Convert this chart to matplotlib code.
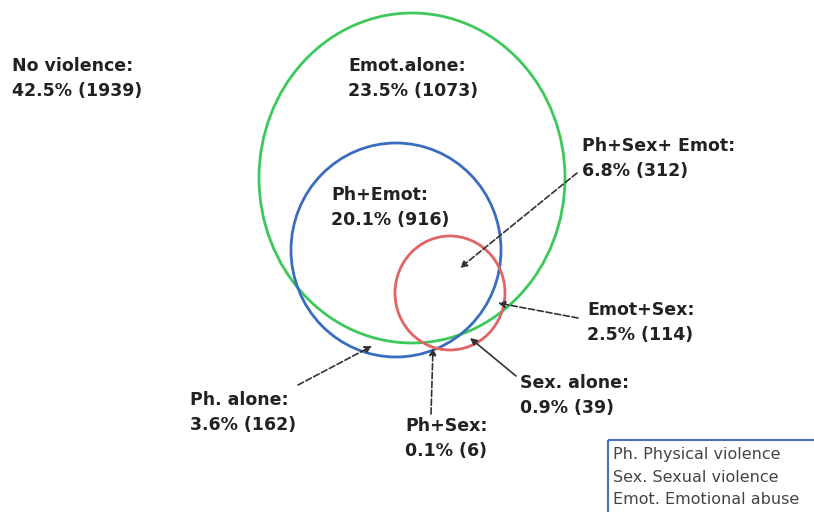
import matplotlib
matplotlib.use('Agg')
import matplotlib.pyplot as plt
from matplotlib.patches import Ellipse, Rectangle

# Data
regions = ['No violence', 'Emot.alone', 'Ph+Sex+ Emot', 'Ph+Emot', 'Emot+Sex',
           'Ph. alone', 'Ph+Sex', 'Sex. alone']
percents = [42.5, 23.5, 6.8, 20.1, 2.5, 3.6, 0.1, 0.9]
counts = [1939, 1073, 312, 916, 114, 162, 6, 39]
legend_lines = ['Ph. Physical violence', 'Sex. Sexual violence', 'Emot. Emotional abuse']

plt.rcParams['font.family'] = ['DejaVu Sans']

fig = plt.figure(figsize=(8.14, 5.12), dpi=100)
ax = fig.add_axes([0, 0, 1, 1])
ax.set_xlim(0, 814)
ax.set_ylim(512, 0)
ax.axis('off')

# circles (center x, center y, width, height, color)
circles = [
    (412, 178, 306, 330, '#3cc85a'),   # Emot
    (396, 250, 210, 214, '#3a6cc0'),   # Ph
    (450, 293, 110, 114, '#e06464'),   # Sex
]
for cx, cy, w, h, col in circles:
    ax.add_patch(Ellipse((cx, cy), w, h, fill=False, edgecolor=col, lw=2))

# label positions (left x, top y) and arrows (text end -> target)
label_pos = [(12, 57), (348, 57), (582, 137), (331, 186), (587, 301),
             (190, 391), (405, 417), (520, 374)]
arrows = {
    2: ((577, 173), (460, 268), '--'),
    4: ((578, 318), (498, 303), '--'),
    5: ((298, 385), (372, 346), '--'),
    6: ((431, 414), (433, 348), '--'),
    7: ((516, 376), (470, 338), '-'),
}

for i, name in enumerate(regions):
    x, y = label_pos[i]
    ax.text(x, y, f'{name}:\n{percents[i]}% ({counts[i]})', ha='left', va='top',
            fontsize=12.5, fontweight='bold', color='#222222', linespacing=1.5)
    if i in arrows:
        (x0, y0), (x1, y1), ls = arrows[i]
        ax.annotate('', xy=(x1, y1), xytext=(x0, y0),
                    arrowprops=dict(arrowstyle='-|>', linestyle=ls, color='#333333',
                                    lw=1.2, mutation_scale=10, shrinkA=0, shrinkB=0))

# legend box
ax.add_patch(Rectangle((608, 440), 220, 90, fill=False, edgecolor='#4a6fc0', lw=1.5,
                       clip_on=False))
for k, line in enumerate(legend_lines):
    ax.text(613, 454 + k * 23, line, ha='left', va='center', fontsize=11.5, color='#444444')

fig.savefig('out.png', dpi=100)
